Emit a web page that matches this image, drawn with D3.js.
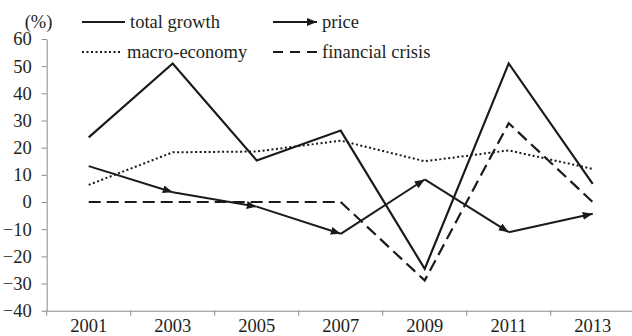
<!DOCTYPE html>
<html>
<head>
<meta charset="utf-8">
<script src="https://cdn.jsdelivr.net/npm/d3@7"></script>
<style>
  html, body { margin: 0; padding: 0; background: #fff; }
  svg { display: block; }
  text { font-family: "Liberation Serif", "Times New Roman", serif; fill: #231f20; }
</style>
</head>
<body>
<div id="chart"></div>
<script>
const years = ["2001", "2003", "2005", "2007", "2009", "2011", "2013"];
const totalGrowth = [23.8, 51, 15.3, 26.3, -24.6, 51, 6.7];
const price = [13.2, 3.6, -1.7, -11.7, 8.3, -11.1, -4.3];
const macroEconomy = [6.3, 18.3, 18.6, 22.6, 15.0, 19.0, 12.2];
const financialCrisis = [0, 0, 0, 0, -28.9, 29.0, 0];
const yTicks = [-40, -30, -20, -10, 0, 10, 20, 30, 40, 50, 60];

const width = 632, height = 336;
const fontSize = 18.5;
const serif = "'Liberation Serif', 'Times New Roman', serif";
const ink = "#1a1a1a";
const axisColor = "#8a8a8a";

const svg = d3.select("#chart").append("svg")
  .attr("width", width)
  .attr("height", height);

const x = d3.scaleBand()
  .domain(years)
  .range([46.7, 634.7])
  .padding(0);

const y = d3.scaleLinear()
  .domain([-40, 60])
  .range([310.7, 39]);

const cx = (i) => x(years[i]) + x.bandwidth() / 2;

// arrow marker for the price line
svg.append("defs").append("marker")
  .attr("id", "arrow")
  .attr("viewBox", "0 0 10 8")
  .attr("refX", 10)
  .attr("refY", 4)
  .attr("markerWidth", 10)
  .attr("markerHeight", 8)
  .attr("markerUnits", "userSpaceOnUse")
  .attr("orient", "auto")
  .append("path")
  .attr("d", "M0,0 L10,4 L0,8 Z")
  .attr("fill", ink);

// y axis
const yAxis = svg.append("g")
  .attr("transform", "translate(46.7,0)")
  .call(d3.axisLeft(y).tickValues(yTicks).tickSize(5).tickSizeOuter(0).tickPadding(10));
yAxis.attr("font-family", null).attr("font-size", null);
yAxis.select(".domain").attr("stroke", axisColor);
yAxis.selectAll(".tick line").attr("stroke", axisColor);
yAxis.selectAll(".tick text")
  .style("font-size", fontSize + "px")
  .style("font-family", serif)
  .attr("fill", "#231f20");

// x axis (labels sit a little higher than the reference so they are not clipped)
const xAxis = svg.append("g")
  .attr("transform", "translate(0,310.7)")
  .call(d3.axisBottom(x).tickSize(0).tickSizeOuter(0).tickPadding(8));
xAxis.attr("font-family", null).attr("font-size", null);
xAxis.select(".domain").attr("stroke", axisColor);
xAxis.selectAll(".tick text")
  .style("font-size", fontSize + "px")
  .style("font-family", serif)
  .attr("fill", "#231f20");
xAxis.selectAll(".bound")
  .data(years.concat(["end"]))
  .enter()
  .append("line")
  .attr("x1", (d, i) => x.range()[0] + i * x.step())
  .attr("x2", (d, i) => x.range()[0] + i * x.step())
  .attr("y1", 0)
  .attr("y2", 5)
  .attr("stroke", axisColor);

const line = d3.line()
  .x((d, i) => cx(i))
  .y((d) => y(d));

svg.append("path")
  .datum(macroEconomy)
  .attr("d", line)
  .attr("fill", "none")
  .attr("stroke", ink)
  .attr("stroke-width", 2)
  .attr("stroke-dasharray", "2,2.5");

svg.append("path")
  .datum(financialCrisis)
  .attr("d", line)
  .attr("fill", "none")
  .attr("stroke", ink)
  .attr("stroke-width", 2.2)
  .attr("stroke-dasharray", "12,6");

svg.append("path")
  .datum(totalGrowth)
  .attr("d", line)
  .attr("fill", "none")
  .attr("stroke", ink)
  .attr("stroke-width", 2.2)
  .attr("stroke-linejoin", "miter");

// price: one segment per step so each arrow points along its own segment
const segs = d3.pairs(price.map((v, i) => [cx(i), y(v)]));
svg.selectAll(".price-seg")
  .data(segs)
  .enter()
  .append("path")
  .attr("d", (d) => d3.line()(d))
  .attr("fill", "none")
  .attr("stroke", ink)
  .attr("stroke-width", 2)
  .attr("marker-end", "url(#arrow)");

// unit label
svg.append("text")
  .attr("x", 38.5)
  .attr("y", 22)
  .attr("dy", "0.32em")
  .attr("text-anchor", "middle")
  .style("font-size", fontSize + "px")
  .style("font-family", serif)
  .text("(%)");

// legend
const legendItems = [
  { name: "total growth", x: 82, x2: 125, y: 22, dash: null, arrow: false, tx: 130 },
  { name: "price", x: 273, x2: 317, y: 22, dash: null, arrow: true, tx: 322 },
  { name: "macro-economy", x: 82, x2: 122, y: 52, dash: "2,2.5", arrow: false, tx: 127 },
  { name: "financial crisis", x: 273, x2: 318, y: 52, dash: "10,7", arrow: false, tx: 322 }
];

const legend = svg.append("g");
legendItems.forEach((k) => {
  const row = legend.append("g");
  row.append("line")
    .attr("x1", k.x)
    .attr("x2", k.x2)
    .attr("y1", k.y)
    .attr("y2", k.y)
    .attr("stroke", ink)
    .attr("stroke-width", k.dash === "2,2.5" ? 2 : 2.2)
    .attr("stroke-dasharray", k.dash)
    .attr("marker-end", k.arrow ? "url(#arrow)" : null);
  row.append("text")
    .attr("x", k.tx)
    .attr("y", k.y)
    .attr("dy", "0.32em")
    .style("font-size", fontSize + "px")
    .style("font-family", serif)
    .text(k.name);
});
</script>
</body>
</html>
